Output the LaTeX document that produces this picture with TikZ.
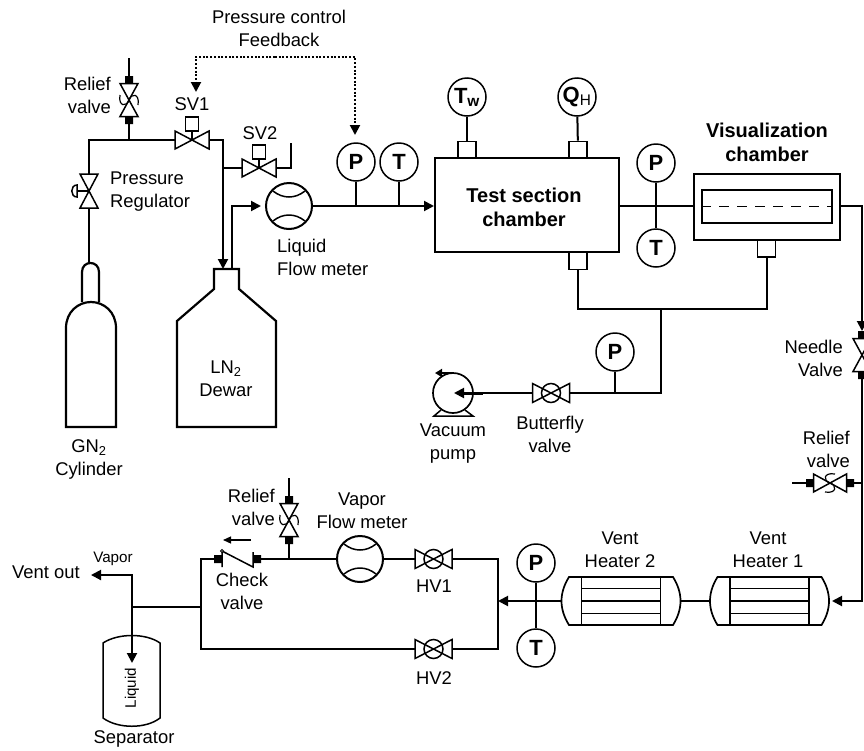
\documentclass[tikz,border=0pt]{standalone}
\usepackage{fontspec}
\setmainfont{Liberation Sans}
\usetikzlibrary{arrows.meta,positioning,calc}
\newcommand{\valvebody}[2]{\draw[thin pipe] (-#1,-#2) -- (#1,#2) -- (#1,-#2) -- (-#1,#2) -- cycle;}
\newcommand{\flangedbody}{\valvebody{16.5}{9}
\fill (-24,-4) rectangle (-16.5,4) (16.5,-4) rectangle (24,4);
\coordinate (-w) at (-24,0); \coordinate (-e) at (24,0);}
\begin{document}
\begin{tikzpicture}[x=1pt,y=-1pt,>={Triangle[length=10pt,width=10pt]},
pipe/.style={line width=2pt},
thin pipe/.style={line width=1.5pt},
lbl/.style={align=center,inner sep=0pt,font=\fontsize{18.4}{23}\selectfont},
blbl/.style={lbl,font=\fontsize{20}{24}\selectfont\bfseries},
small lbl/.style={lbl,font=\fontsize{15.2}{17}\selectfont},
gauge/.style={circle,draw,line width=1.5pt,minimum size=38pt,inner sep=0pt,font=\fontsize{22}{24}\selectfont\bfseries},
port/.style={rectangle,draw,line width=1.9pt,minimum width=18pt,minimum height=17pt,inner sep=0pt},
box/.style={rectangle,draw,line width=2pt,inner sep=0pt},
pics/solenoid/.style={code={\valvebody{17}{9}
\draw[thin pipe] (0,0) -- (0,-9) (-6.5,-23) rectangle (6.5,-9);
\coordinate (-w) at (-17,0); \coordinate (-e) at (17,0);}},
pics/regulator/.style={code={\valvebody{17}{9}
\draw[thin pipe] (0,0) -- (0,-12);
\draw[thin pipe] (-6,-12) .. controls (-6,-19) and (6,-19) .. (6,-12) -- cycle;
\coordinate (-w) at (-17,0); \coordinate (-e) at (17,0);}},
pics/butterfly/.style={code={\valvebody{18.5}{9.5}
\draw[thin pipe] (0,0) circle (9.5);
\coordinate (-w) at (-18.5,0); \coordinate (-e) at (18.5,0);}},
pics/relief/.style={code={\flangedbody
\draw[line width=1.2pt] (5,-9) .. controls (-7,-11) and (-7,-2) .. (0,0) .. controls (7,2) and (7,11) .. (-5,9);}},
pics/needle/.style={code={\flangedbody}},
pics/flowmeter/.style={code={\node[circle,draw,line width=2pt,minimum size=46pt,inner sep=0pt] (-c) at (0,0) {};
\draw[thin pipe] (-16,-15) .. controls (-6,-7) and (6,-7) .. (16,-15) (-16,15) .. controls (-6,7) and (6,7) .. (16,15);}},
pics/heater/.style={code={\draw[line width=1.7pt] (-52,-24) -- (52,-24) .. controls (57,-16) and (59.5,-8) .. (59.5,0) .. controls (59.5,8) and (57,16) .. (52,24) -- (-52,24) .. controls (-57,16) and (-59.5,8) .. (-59.5,0) .. controls (-59.5,-8) and (-57,-16) .. (-52,-24) -- cycle;
\draw[line width=1.7pt] (-39.5,-24) -- (-39.5,24) (39.5,-24) -- (39.5,24) (-39.5,-12.5) -- (39.5,-12.5) (-39.5,0) -- (39.5,0) (-39.5,12.5) -- (39.5,12.5);
\coordinate (-w) at (-59.5,0); \coordinate (-e) at (59.5,0);}}]
\useasboundingbox (0,0) rectangle (864,750);

\node[gauge] (p1) at (356,162) {P};
\node[gauge] (t1) at (399,162) {T};
\node[gauge] (tw) at (467,97) {T\textsubscript{w}};
\node[gauge] (qh) at (577,97) {Q\textsubscript{\normalfont H}};
\node[gauge] (p2) at (656,163) {P};
\node[gauge] (t2) at (656,248) {T};
\node[gauge] (p3) at (615,352) {P};
\node[gauge] (p4) at (536,563) {P};
\node[gauge] (t3) at (536,648) {T};
\node[box,minimum width=184pt,minimum height=94pt] (test) at (527,205) {};
\node[port] (ptw) at (467,150) {};
\node[port] (pqh) at (578,150) {};
\node[port] (pbot) at (578,261) {};
\node[box,minimum width=146pt,minimum height=66pt] (vis) at (767,207) {};
\node[box,minimum width=130pt,minimum height=33pt] (visin) at (767,206.5) {};
\node[port] (pvis) at (766.5,248.5) {};
\node[circle,draw,line width=1.7pt,minimum size=40pt,inner sep=0pt] (pump) at (453,393) {};

\pic (rv1) at (129,100) [rotate=90] {relief};
\pic (sv1) at (192,140) {solenoid};
\pic (sv2) at (259,168) {solenoid};
\pic (reg) at (89,191) [rotate=90] {regulator};
\pic (fm1) at (289,206) {flowmeter};
\pic (fm2) at (360,559) {flowmeter};
\pic (bf) at (551,393) {butterfly};
\pic (nv) at (862,355) [rotate=90] {needle};
\pic (rv3) at (830,483) {relief};
\pic (rv2) at (289,520) [rotate=90] {relief};
\pic (hv1) at (433.5,559) {butterfly};
\pic (hv2) at (433.5,649) {butterfly};
\pic (ht1) at (769.5,601) {heater};
\pic (ht2) at (621,601) {heater};

\coordinate (rv1top) at (129,58);
\coordinate (cyltop) at (89,263);
\coordinate (dewin) at (223,269);
\coordinate (dewout) at (232,269);
\coordinate (sv2top) at (291,143);
\coordinate (mid) at (656,206);
\coordinate (vj) at (661,309);
\coordinate (pumpin) at (454,393);
\coordinate (rv3end) at (792,483);
\coordinate (rj) at (498,601);
\coordinate (lj) at (201,607);
\coordinate (sepj) at (132,607);
\coordinate (septip) at (132,663);
\coordinate (vent) at (91,575);
\coordinate (rv2top) at (289,478);
\coordinate (ckl) at (222,559);
\coordinate (ckr) at (253,559);
\coordinate (ckwest) at (214,559);
\coordinate (ckeast) at (261,559);
\coordinate (fbtop) at (275,57);
\coordinate (fbl) at (196,92);
\coordinate (fbr) at (355,135);

\path[pipe]
(tw) edge (ptw) (qh) edge (pqh)
(p1) edge (p1 |- fm1-c) (t1) edge (t1 |- fm1-c)
(p2) edge (t2) (p3) edge (p3 |- bf-e) (p4) edge (t3)
(rv1top) edge (rv1-e) (rv1-w) edge (rv1-w |- sv1-w)
(cyltop) edge (reg-w)
(sv2-w -| dewin) edge (sv2-w)
(test.east |- mid) edge (vis.west |- mid)
(rv3end) edge (rv3-w) (rv3-e) edge (rv3-e -| nv-e)
(ht2-e) edge (ht1-w)
(hv1-w) edge (fm2-c) (fm2-c) edge (ckeast)
(rv2top) edge (rv2-e) (rv2-w) edge (rv2-w |- fm2-c)
(lj) edge (sepj)
;
\draw[pipe] (reg-e) |- (sv1-w);
\draw[pipe] (sv2-e) -| (sv2top);
\draw[pipe] (pbot) |- (vj) -| (pvis);
\draw[pipe] (vj) |- (bf-e);
\draw[pipe] (hv1-e) -| (rj) |- (hv2-e);
\draw[pipe] (ckwest) -| (lj) |- (hv2-w);
\path[pipe,->]
(fm1-c) edge (test.west |- fm1-c)
(ht2-w) edge (rj)
(sepj) edge (septip)
(bf-w) edge (pumpin)
;
\draw[pipe,->] (sv1-e) -| (dewin);
\draw[pipe,->,shorten >=4pt] (dewout) |- (fm1-c);
\draw[pipe,->] (vis.east |- mid) -| (nv-e);
\draw[pipe,->,shorten >=3pt] (nv-w) |- (ht1-e);
\draw[pipe,->] (sepj) |- (vent);
\draw[line width=2pt,dash pattern=on 2pt off 1.7pt,->] (fbtop) -| (fbl);
\draw[line width=2pt,dash pattern=on 2pt off 1.7pt,->] (fbtop) -| (fbr);

\draw[line width=3pt] (463,393) -- (483,393);
\draw[thin pipe] (441,410) -- (434,416) -- (473,416) -- (465,410);
\draw[pipe,->,>={Triangle[length=7pt,width=8pt]}] (452,373) -- (435,373);

\draw[line width=2.2pt] (82,302) -- (82,272) .. controls (82,260) and (99,260) .. (99,272) -- (99,302);
\draw[line width=2.2pt] (66,427) -- (66,328) .. controls (66,312) and (78,302) .. (91,302) .. controls (104,302) and (116,312) .. (116,328) -- (116,427) -- cycle;
\draw[line width=2.2pt] (177,427) -- (177,321) -- (214,289) -- (214,269) -- (239,269) -- (239,289) -- (276,321) -- (276,427) -- cycle;
\draw[thin pipe] (103,643) .. controls (118,633) and (146,633) .. (160,643) -- (160,718) .. controls (146,729) and (118,729) .. (103,718) -- cycle;

\draw[line width=1.7pt,dash pattern=on 10pt off 8pt] (visin.west) -- (visin.east);

\fill (ckwest |- 0,555) rectangle (ckl |- 0,563) (ckr |- 0,555) rectangle (ckeast |- 0,563);
\draw[thin pipe] (222,551) -- (222,567) (222,551) -- (253,567) -- (253,552);
\draw[fill=white,line width=0.9pt] (222,551) circle (1.6);
\draw[line width=1.2pt,->,>={Triangle[length=8pt,width=7pt]}] (251,540) -- (223,540);

\node[lbl] (fblbl) at (279,28) {Pressure control\\Feedback};
\node[lbl,anchor=east,align=right] (rv1lbl) at (111,95.5) {Relief\\valve};
\node[lbl] (sv1lbl) at (192,104) {SV1};
\node[lbl] (sv2lbl) at (260,133) {SV2};
\node[lbl,anchor=west,align=left] (reglbl) at (110,191.5) {Pressure\\Regulator};
\node[lbl,anchor=west,align=left] (fm1lbl) at (277,257.5) {Liquid\\Flow meter};
\node[lbl] (cyllbl) at (89,459) {GN\textsubscript{2}\\Cylinder};
\node[lbl] (dewlbl) at (226,379) {LN\textsubscript{2}\\Dewar};
\node[blbl] (testlbl) at (524,207) {Test section\\chamber};
\node[blbl] (vislbl) at (767,142) {Visualization\\chamber};
\node[lbl] (pumplbl) at (453,443.5) {Vacuum\\pump};
\node[lbl] (bflbl) at (550,434.5) {Butterfly\\valve};
\node[lbl,anchor=east,align=right] (nvlbl) at (843,358.5) {Needle\\Valve};
\node[lbl,anchor=east,align=right] (rv3lbl) at (850,449.5) {Relief\\valve};
\node[lbl] (ht2lbl) at (620,550) {Vent\\Heater 2};
\node[lbl] (ht1lbl) at (768,550) {Vent\\Heater 1};
\node[lbl] (hv1lbl) at (434,586) {HV1};
\node[lbl] (hv2lbl) at (434,678) {HV2};
\node[lbl] (fm2lbl) at (362,510.5) {Vapor\\Flow meter};
\node[lbl,anchor=east,align=right] (rv2lbl) at (275,507) {Relief\\valve};
\node[lbl] (cklbl) at (242,591.5) {Check\\valve};
\node[lbl] (ventlbl) at (46,572) {Vent out};
\node[small lbl] (vaplbl) at (113,559) {Vapor};
\node[small lbl,rotate=90] (liqlbl) at (132,688) {Liquid};
\node[lbl] (seplbl) at (134,739) {Separator};
\end{tikzpicture}
\end{document}
